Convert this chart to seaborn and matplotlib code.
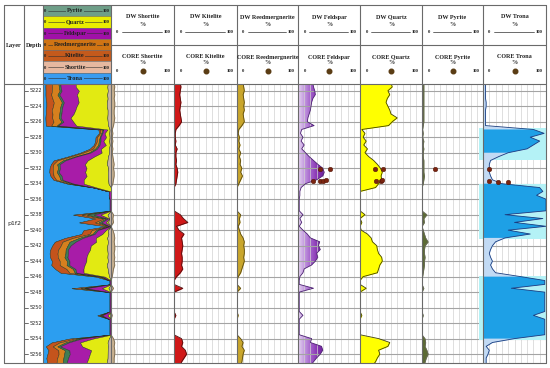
import numpy as np
import pandas as pd
import seaborn as sns
import matplotlib.pyplot as plt
from matplotlib.colors import LinearSegmentedColormap

# ---------------------------------------------------------
# datos leidos del registro (una muestra cada 0.5 m)
# ---------------------------------------------------------
depth = np.arange(5221.0, 5257.51, 0.5)

trona = [4, 4, 4, 4, 4, 5, 5, 4, 4, 4, 4, 4,
         80, 97, 75, 90, 80, 70, 40, 25,
         12, 10, 10, 10, 12, 15,
         30, 90, 95, 85, 100, 100, 100, 100, 35, 95, 50, 100, 40,
         75, 35, 20, 15, 12, 10, 12, 15, 12, 15, 20,
         60, 98, 98, 45, 98, 98, 98, 98, 98, 98, 80, 98, 98, 98, 98, 98,
         50, 15, 5, 10, 8, 5, 5, 5]
feldspar = [24, 25, 27, 28, 24, 22, 21, 20, 18, 16, 15, 26,
            6, 4, 8, 5, 10, 6, 12, 18,
            25, 32, 40, 42, 40, 30,
            12, 5, 3, 3, 2, 2, 2, 2, 8, 3, 6, 2, 8,
            15, 20, 35, 33, 36, 30, 32, 28, 22, 10, 8,
            3, 2, 2, 25, 2, 2, 2, 2, 2, 2, 8, 2, 2, 2, 2, 2,
            22, 20, 38, 40, 36, 30, 25, 20]
quartz = [50, 52, 45, 48, 44, 42, 45, 48, 50, 60, 52, 46,
          3, 8, 5, 10, 6, 12, 8, 14,
          22, 28, 33, 36, 34, 35,
          30, 25, 0, 0, 0, 0, 0, 0, 8, 0, 3, 0, 2,
          12, 18, 20, 27, 28, 30, 35, 36, 32, 30, 28,
          5, 0, 0, 10, 0, 0, 0, 0, 0, 0, 3, 0, 0, 0, 0, 0,
          30, 48, 45, 30, 32, 28, 25, 20]
kitelite = [10, 11, 10, 9, 10, 11, 10, 9, 10, 11, 12, 8,
            3, 2, 2, 3, 2, 5, 3, 3,
            4, 3, 5, 6, 5, 4,
            3, 0, 0, 0, 0, 0, 0, 0, 10, 15, 22, 4, 8,
            16, 12, 13, 14, 13, 12, 13, 13, 12, 14, 10,
            4, 0, 0, 14, 0, 0, 0, 0, 0, 0, 3, 0, 0, 0, 0, 0,
            12, 14, 12, 18, 20, 16, 12, 10]
reedmergnerite = [10, 11, 12, 10, 11, 12, 11, 12, 10, 11, 12, 8,
                  3, 2, 4, 3, 5, 3, 6, 4,
                  6, 5, 8, 6, 9, 6,
                  3, 0, 0, 0, 0, 0, 0, 0, 6, 4, 5, 2, 4,
                  6, 10, 12, 11, 12, 12, 11, 12, 10, 8, 6,
                  2, 0, 0, 6, 0, 0, 0, 0, 0, 0, 2, 0, 0, 0, 0, 0,
                  6, 10, 8, 12, 10, 9, 8, 6]
shortite = [5, 6, 5, 6, 5, 6, 6, 5, 5, 6, 5, 4,
            2, 3, 2, 3, 2, 3, 2, 3,
            4, 5, 4, 5, 5, 4,
            3, 0, 0, 0, 0, 0, 0, 0, 4, 3, 4, 0, 3,
            5, 6, 5, 6, 6, 5, 6, 5, 6, 4, 3,
            2, 0, 0, 4, 0, 0, 0, 0, 0, 0, 2, 0, 0, 0, 0, 0,
            4, 6, 5, 6, 6, 5, 5, 4]
pyrite = [3, 3, 3, 3, 3, 3, 3, 3, 3, 3, 3, 2,
          1, 2, 1, 3, 2, 3, 2, 2,
          3, 3, 3, 3, 4, 3,
          2, 0, 0, 0, 0, 0, 0, 0, 8, 3, 4, 0, 2,
          4, 6, 10, 5, 4, 4, 5, 4, 4, 3, 2,
          1, 0, 0, 3, 0, 0, 0, 0, 0, 0, 2, 0, 0, 0, 0, 0,
          5, 6, 5, 8, 10, 7, 5, 4]

# intervalos de trona (fondo cian)
trona_zones = [(5226.8, 5231.0), (5234.0, 5241.2), (5245.9, 5254.2)]

# puntos de nucleo (CORE)
core_feldspar_depth = [5232.1, 5232.1, 5233.7, 5233.7, 5233.6, 5233.5]
core_feldspar = [35, 52, 24, 35, 40, 45]
core_quartz_depth = [5232.1, 5232.1, 5233.7, 5233.7, 5233.5]
core_quartz = [24, 37, 26, 34, 35]
core_pyrite_depth = [5232.1]
core_pyrite = [21]
core_trona_depth = [5232.1, 5233.7, 5233.8, 5233.8]
core_trona = [10, 10, 24, 40]

layer_name = "p1f2"
depth_ticks = list(range(5222, 5257, 2))

# ---------------------------------------------------------
# figura
# ---------------------------------------------------------
sns.set_style("white")
plt.rcParams['font.family'] = ['Liberation Serif', 'DejaVu Serif']

W, H = 550, 368
TOP_D, BOT_D = 5221.13, 5257.15
Y_HEAD, Y_MID, Y_DATA, Y_BOT = 5, 45, 84, 363
fig = plt.figure(figsize=(W / 100, H / 100), dpi=100)


def px_axes(x0, y0, x1, y1):
    return fig.add_axes([x0 / W, 1 - y1 / H, (x1 - x0) / W, (y1 - y0) / H])


def clean(ax):
    ax.set_ylim(BOT_D, TOP_D)
    ax.set_xlabel('')
    ax.set_ylabel('')
    ax.tick_params(length=0, labelbottom=False, labelleft=False)
    for s in ax.spines.values():
        s.set_visible(False)


# columna de capa
ax_layer = px_axes(4, Y_DATA, 24, Y_BOT)
clean(ax_layer)
ax_layer.set_xlim(0, 1)
ax_layer.text(0.5, (TOP_D + BOT_D) / 2, layer_name, ha='center', va='center',
              fontsize=4.5, family='DejaVu Sans')

# columna de profundidad
ax_depth = px_axes(24, Y_DATA, 43, Y_BOT)
clean(ax_depth)
ax_depth.set_xlim(0, 1)
for d in depth_ticks:
    ax_depth.plot([0.02, 0.2], [d, d], color='#555555', lw=0.6)
    ax_depth.text(0.28, d, str(d), ha='left', va='center', fontsize=3.6,
                  family='DejaVu Sans', color='#222222')

# columna litologica apilada
stack_cols = [("Trona", trona, "#2c9ef0"), ("Kitelite", kitelite, "#c4541c"),
              ("Reedmergnerite", reedmergnerite, "#d6801e"), ("Pyrite", pyrite, "#3f7d55"),
              ("Feldspar", feldspar, "#a81ca8"), ("Quartz", quartz, "#e2ea12"),
              ("Shortite", shortite, "#c8b4a4")]
df = pd.DataFrame({n: v for n, v, _ in stack_cols}, index=depth)
frac = df.div(df.sum(axis=1), axis=0) * 100
cum = frac.cumsum(axis=1)
ax_stack = px_axes(43, Y_DATA, 111, Y_BOT)
prev = np.zeros(len(depth))
for n, _, c in stack_cols:
    ax_stack.fill_betweenx(depth, prev, cum[n].values, color=c,
                           edgecolor='#203020', lw=0.3)
    prev = cum[n].values
ax_stack.set_xlim(0, 100)
clean(ax_stack)

# pistas DW
feld_cmap = LinearSegmentedColormap.from_list(
    "feld", ["#e4d4f0", "#c49ae0", "#a463cc", "#8a38b4", "#7426a0"])
tracks = [("Shortite", shortite, "#c9b190", "#7a6a50", None),
          ("Kitelite", kitelite, "#d01818", "#501010", None),
          ("Reedmergnerite", reedmergnerite, "#c9a62c", "#5a4a10", None),
          ("Feldspar", feldspar, None, "#4a2070", (core_feldspar_depth, core_feldspar)),
          ("Quartz", quartz, "#ffff00", "#404000", (core_quartz_depth, core_quartz)),
          ("Pyrite", pyrite, "#5c6b34", "#6a6a5a", (core_pyrite_depth, core_pyrite)),
          ("Trona", trona, "#1ea0e6", "#183c80", (core_trona_depth, core_trona))]
track_x = [111, 174, 237, 298, 360, 422, 483, 546]

for i, (name, vals, fc, ec, core) in enumerate(tracks):
    ax = px_axes(track_x[i], Y_DATA, track_x[i + 1], Y_BOT)
    vals = np.asarray(vals, dtype=float)
    ax.set_axisbelow(True)
    if name == "Trona":
        for z0, z1 in trona_zones:
            ax.fill_betweenx([z0, z1], -6, 100, color="#b4f2f6", lw=0, clip_on=False)
        ax.fill_betweenx(depth, 0, vals, color="#c2daf4", lw=0)
        ax.fill_betweenx(depth, 0, vals, where=vals >= 30, color=fc, lw=0)
    elif name == "Feldspar":
        poly = ax.fill_betweenx(depth, 0, vals, color='none', lw=0)
        img = ax.imshow(np.linspace(0, 1, 100).reshape(1, -1), cmap=feld_cmap,
                        extent=[0, 40, BOT_D, TOP_D], aspect='auto', vmin=0, vmax=1)
        img.set_clip_path(poly.get_paths()[0], transform=ax.transData)
        ax.fill_betweenx(depth, 40, np.maximum(vals, 40), color="#7426a0", lw=0)
    else:
        ax.fill_betweenx(depth, 0, vals, color=fc, lw=0)
    sns.lineplot(x=vals, y=depth, orient='y', sort=False, estimator=None,
                 color=ec, lw=0.6, ax=ax)
    if core is not None:
        sns.scatterplot(x=core[1], y=core[0], color="#7a2410", s=11,
                        edgecolor='#4a1408', linewidth=0.3, ax=ax, zorder=5)
    ax.set_xlim(0, 100)
    ax.set_xticks(range(0, 101, 10))
    ax.set_yticks(depth_ticks)
    ax.xaxis.grid(True, color='#d2d2d2', lw=0.5)
    ax.yaxis.grid(True, color='#a4a4a4', lw=0.8)
    clean(ax)

# ---------------------------------------------------------
# cabecera y marcos
# ---------------------------------------------------------
frame = fig.add_axes([0, 0, 1, 1])
frame.set_xlim(0, W)
frame.set_ylim(H, 0)
frame.axis('off')
frame.patch.set_alpha(0)

fk = dict(fontsize=4.4, fontweight='bold', color='#202020', ha='center', va='center')

# leyenda de la columna litologica
legend_rows = [("Pyrite", "#6e9e88"), ("Quartz", "#e8ec00"), ("Feldspar", "#a010a8"),
               ("Reedmergnerite", "#d07414"), ("Kitelite", "#c45a1c"),
               ("Shortite", "#e6b8a0"), ("Trona", "#3a9cf0")]
row_h = (Y_DATA - Y_HEAD) / len(legend_rows)
for k, (n, c) in enumerate(legend_rows):
    y0 = Y_HEAD + k * row_h
    frame.fill_between([43, 111], y0, y0 + row_h, color=c, lw=0)
    frame.plot([43, 111], [y0, y0], color='#707070', lw=0.5)
    yc = y0 + row_h / 2
    frame.plot([48, 102], [yc, yc], color='#303030', lw=0.4)
    frame.text(45.5, yc + 0.5, "0", **{**fk, 'fontsize': 3.4})
    frame.text(106, yc + 0.5, "100", **{**fk, 'fontsize': 3.4})
    frame.text(75, yc, n, bbox=dict(facecolor=c, edgecolor='none', pad=0.4), **fk)

frame.text(14, 45, "Layer", **fk)
frame.text(33.5, 45, "Depth", **fk)

for i, (name, *_rest) in enumerate(tracks):
    x0, x1 = track_x[i], track_x[i + 1]
    cx = (x0 + x1) / 2
    frame.text(cx, 17, "DW " + name, **fk)
    frame.text(cx, 24, "%", **fk)
    frame.plot([x0 + 11, x1 - 12], [31.5, 31.5], color='#303030', lw=0.5)
    frame.text(x0 + 6.5, 32, "0", **{**fk, 'fontsize': 3.4})
    frame.text(x1 - 6.5, 32, "100", **{**fk, 'fontsize': 3.4})
    frame.text(cx, 57, "CORE " + name, **fk)
    frame.text(cx, 63, "%", **fk)
    frame.plot([cx], [71], 'o', ms=3.3, color='#5a3c14')
    frame.text(x0 + 6.5, 71.5, "0", **{**fk, 'fontsize': 3.4})
    frame.text(x1 - 6.5, 71.5, "100", **{**fk, 'fontsize': 3.4})

line_kw = dict(color='#6a6a6a', lw=0.8)
for x in [4, 24, 43] + track_x:
    frame.plot([x, x], [Y_HEAD, Y_BOT], **line_kw)
frame.plot([4, 546], [Y_HEAD, Y_HEAD], **line_kw)
frame.plot([4, 546], [Y_BOT, Y_BOT], **line_kw)
frame.plot([4, 546], [Y_DATA, Y_DATA], **line_kw)
frame.plot([111, 546], [Y_MID, Y_MID], **line_kw)

fig.savefig("out.png", dpi=100)
